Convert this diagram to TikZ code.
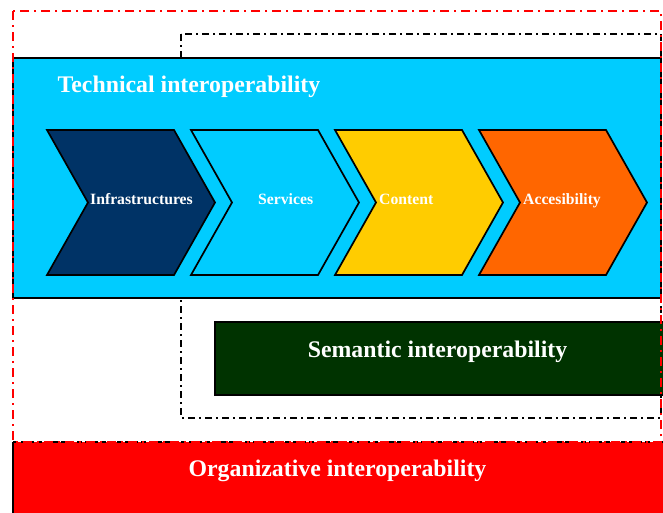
\documentclass[tikz,border=0pt]{standalone}
\usepackage{fontspec}
\setmainfont{Liberation Serif}
\definecolor{techcyan}{HTML}{00CCFF}
\definecolor{infrablue}{HTML}{003366}
\definecolor{contentyellow}{HTML}{FFCC00}
\definecolor{accessorange}{HTML}{FF6600}
\definecolor{semgreen}{HTML}{003300}
\definecolor{orgred}{HTML}{FF0000}
\tikzset{
  outerframe/.style={draw=orgred, line width=1.5pt, dash pattern=on 9pt off 5pt on 2pt off 5pt},
  innerframe/.style={draw=black, line width=1.4pt, dash pattern=on 7pt off 4pt on 2pt off 4pt},
  layerbox/.style={draw=black, line width=2pt},
  chevron/.style={draw=black, line width=1.7pt, line join=miter},
  bigtitle/.style={text=white, font=\bfseries\fontsize{23.8}{26}\selectfont, inner sep=0pt},
  steplabel/.style={text=white, font=\bfseries\fontsize{15.7}{18}\selectfont, inner sep=0pt, anchor=base west},
}
\begin{document}
\begin{tikzpicture}[x=1pt, y=-1pt]
\useasboundingbox (0,0) rectangle (663,512);
% organizational layer at the bottom
\fill[orgred] (13,442) rectangle (670,520);
\draw[black, line width=1.4pt] (13,442) -- (13,520);
\draw[black, line width=1.6pt, dash pattern=on 5pt off 3pt] (13,442) -- (670,442);
\node[bigtitle, anchor=base] (org) at (337.5,476) {Organizative interoperability};
% semantic frame and layer
\draw[innerframe] (181,34) rectangle (661,418);
\fill[semgreen] (215,322) rectangle (670,395);
\draw[layerbox, line width=1.7pt] (670,322) -- (215,322) -- (215,395) -- (670,395);
\node[bigtitle, anchor=base] (sem) at (437.5,357) {Semantic interoperability};
% technical layer
\fill[techcyan] (13,58) rectangle (661,298);
\draw[layerbox] (13,58) rectangle (661,298);
\node[bigtitle, anchor=base west] (tech) at (57.5,92) {Technical interoperability};
% chevron steps
\foreach \x/\col in {47/infrablue, 191/techcyan, 335/contentyellow, 479/accessorange}{
  \draw[chevron, fill=\col] (\x,130) -- ++(127,0) -- ++(41,72.5) -- ++(-41,72.5)
    -- ++(-127,0) -- ++(41,-72.5) -- cycle;
}
\node[steplabel] (infra) at (90,204) {Infrastructures};
\node[steplabel] (serv) at (258,204) {Services};
\node[steplabel] (cont) at (379,204) {Content};
\node[steplabel] (acc) at (523,204) {Accesibility};
% outer organizational frame
\draw[outerframe] (13,11) rectangle (661,442);
\end{tikzpicture}
\end{document}
